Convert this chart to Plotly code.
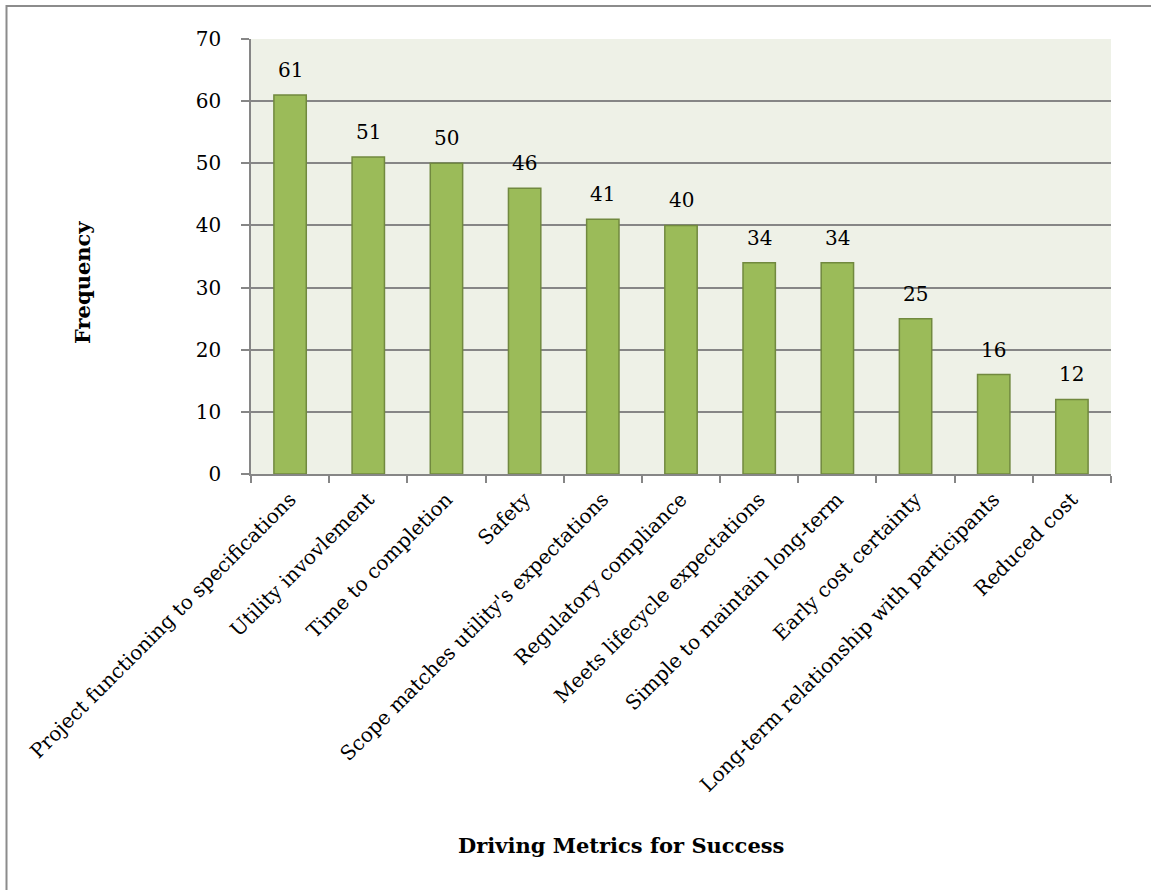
import plotly.graph_objects as go

# Survey results: how often each metric was named as a driver of project success
metrics = [
    "Project functioning to specifications",
    "Utility invovlement",
    "Time to completion",
    "Safety",
    "Scope matches utility's expectations",
    "Regulatory compliance",
    "Meets lifecycle expectations",
    "Simple to maintain long-term",
    "Early cost certainty",
    "Long-term relationship with participants",
    "Reduced cost",
]
frequency = [61, 51, 50, 46, 41, 40, 34, 34, 25, 16, 12]
y_ticks = [0, 10, 20, 30, 40, 50, 60, 70]

FONT = "DejaVu Serif"
GRID = "#868686"

fig = go.Figure(
    go.Bar(
        x=metrics,
        y=frequency,
        marker=dict(color="#9BBB59", line=dict(color="#71893F", width=1.5)),
        hoverinfo="x+y",
    )
)

# value labels above each bar
for name, val in zip(metrics, frequency):
    fig.add_annotation(
        x=name, y=val, text=str(val), showarrow=False,
        yanchor="bottom", yshift=11,
        font=dict(family=FONT, size=20, color="black"),
    )

L, R, T, B = 251, 40, 39, 416
W, H = 1151, 890
pw, ph = W - L - R, H - T - B

def px_x(p):
    return (p - L) / pw

def px_y(p):
    return (H - B - p) / ph

# axis titles
fig.add_annotation(
    text="<b>Driving Metrics for Success</b>", showarrow=False,
    xref="paper", yref="paper", x=px_x(621), y=px_y(845),
    xanchor="center", yanchor="middle",
    font=dict(family=FONT, size=21, color="black"),
)
fig.add_annotation(
    text="<b>Frequency</b>", showarrow=False, textangle=-90,
    xref="paper", yref="paper", x=px_x(82), y=px_y(283),
    xanchor="center", yanchor="middle",
    font=dict(family=FONT, size=21, color="black"),
)

# outer chart frame
fig.add_shape(
    type="rect", xref="paper", yref="paper",
    x0=px_x(6.5), x1=px_x(1170), y0=px_y(910), y1=px_y(6),
    line=dict(color="#8C8C8C", width=2), fillcolor="rgba(0,0,0,0)",
    layer="below",
)

fig.update_layout(
    width=W, height=H,
    margin=dict(l=L, r=R, t=T, b=B, pad=0),
    paper_bgcolor="white",
    plot_bgcolor="#EEF1E7",
    bargap=0.586,
    showlegend=False,
    font=dict(family=FONT, size=20, color="black"),
)
fig.update_xaxes(
    tickangle=-45,
    tickson="boundaries",
    ticks="outside", ticklen=7, tickcolor=GRID, tickwidth=1.5,
    showline=True, linecolor=GRID, linewidth=1.5,
    tickfont=dict(family=FONT, size=20, color="black"),
    showgrid=False,
    ticklabelstandoff=4,
)
fig.update_yaxes(
    range=[0, 70], tickvals=y_ticks,
    ticks="outside", ticklen=8, tickcolor=GRID, tickwidth=1.5,
    showline=True, linecolor=GRID, linewidth=1.5,
    showgrid=True, gridcolor=GRID, gridwidth=1.5,
    zeroline=False,
    tickfont=dict(family=FONT, size=20, color="black"),
    ticklabelstandoff=16,
)

fig.write_html("out.html")
